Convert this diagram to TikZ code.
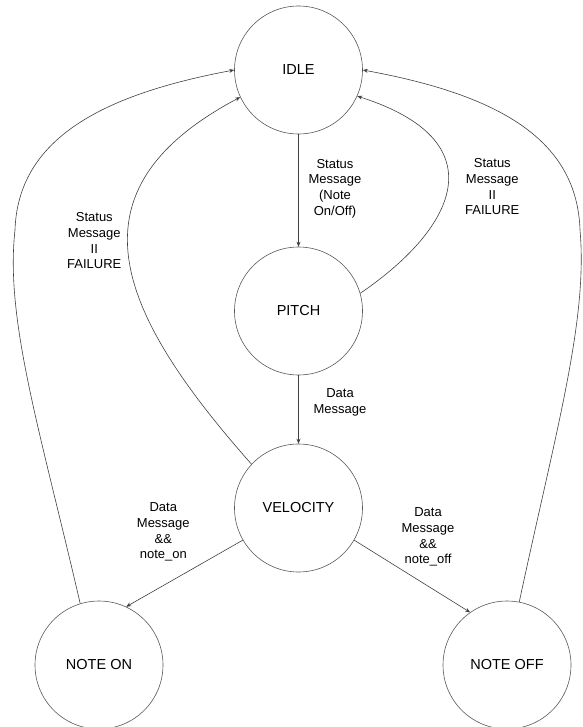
\documentclass[tikz,border=0pt]{standalone}
\usepackage{fontspec}
\setmainfont{Liberation Sans}
\usetikzlibrary{arrows.meta}
\begin{document}
\begin{tikzpicture}[x=1pt,y=-1pt,
  state/.style={circle,draw=black!65,line width=0.6pt,minimum size=128pt,inner sep=0pt,font=\fontsize{14.5}{16}\selectfont},
  edge/.style={draw=black!75,line width=0.6pt,-{Stealth[length=5pt,width=4pt]}},
  lbl/.style={align=center,font=\fontsize{13}{15.7}\selectfont,inner sep=0pt}]
\useasboundingbox (0,0) rectangle (582,727);
\node[state] (idle) at (298.5,70) {IDLE};
\node[state] (pitch) at (298.5,311) {PITCH};
\node[state] (vel) at (298.5,508) {VELOCITY};
\node[state] (non) at (99,665) {NOTE ON};
\node[state] (noff) at (507,665) {NOTE OFF};

\draw[edge] (idle) -- (pitch);
\draw[edge] (pitch) -- (vel);
\draw[edge] (pitch.16.7) .. controls (460,225) and (495,140) .. (idle.-24.5);
\draw[edge] (vel.137.4) .. controls (115,310) and (65,190) .. (idle.205.2);
\draw[edge] (non.107) .. controls (40,430) and (5,320) .. (15,230) .. controls (18,140) and (100,95) .. (idle.west);
\draw[edge] (noff.79) .. controls (556,430) and (588,320) .. (580,230) .. controls (577,140) and (500,95) .. (idle.east);
\draw[edge] (vel.210) -- (non.65.6);
\draw[edge] (vel.-30.7) -- (noff.125.7);

\node[lbl] (l1) at (335,188.5) {Status\\Message\\(Note\\On/Off)};
\node[lbl] (l2) at (340,402.5) {Data\\Message};
\node[lbl] (l3) at (492.3,186.7) {Status\\Message\\II\\FAILURE};
\node[lbl] (l4) at (94.3,240.8) {Status\\Message\\II\\FAILURE};
\node[lbl] (l5) at (163.3,532) {Data\\Message\\\&\&\\note\_on};
\node[lbl] (l6) at (428,537) {Data\\Message\\\&\&\\note\_off};
\end{tikzpicture}
\end{document}
